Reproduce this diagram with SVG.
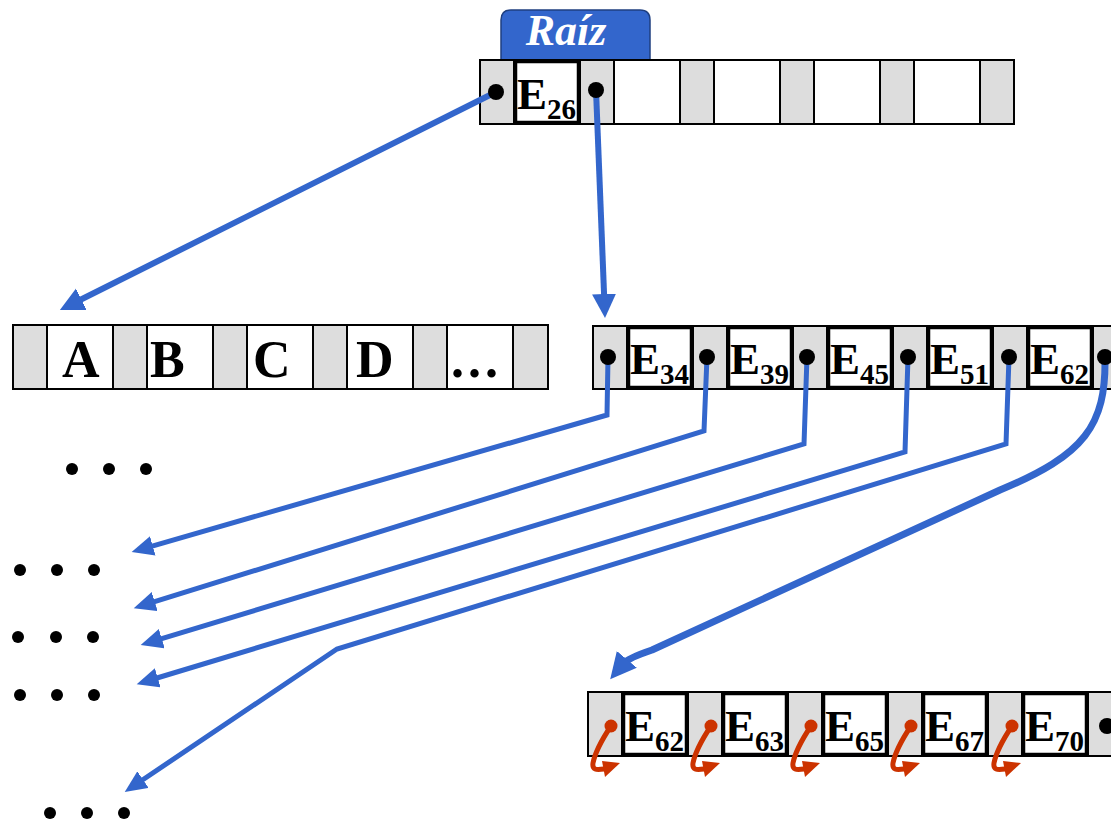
<svg xmlns="http://www.w3.org/2000/svg" width="1111" height="821" viewBox="0 0 1111 821">
  <defs>
    <style>
      .frame { fill: #dddddd; stroke: #000; stroke-width: 2; }
      .cell { fill: #fff; stroke: #000; stroke-width: 2; }
      .key { fill: #fff; stroke: #000; stroke-width: 2.5; }
      .e { font-family: "Liberation Serif", "Times New Roman", serif; font-weight: bold; font-size: 45px; fill: #000; }
      .sub { font-size: 29px; }
      .big { font-family: "Liberation Serif", "Times New Roman", serif; font-weight: bold; font-size: 52px; fill: #000; }
      .ptr { fill: #000; }
      .link { fill: none; stroke: #3366cc; stroke-linejoin: miter; }
      .thick { stroke-width: 6; }
      .thin { stroke-width: 5; }
      .curve { stroke-width: 7; stroke-linecap: round; stroke-linejoin: round; }
      .sib { fill: none; stroke: #cc3300; stroke-width: 5; stroke-linecap: round; }
      .dot { fill: #000; }
    </style>
    <marker id="headL" markerUnits="userSpaceOnUse" markerWidth="26" markerHeight="26" refX="6" refY="12" orient="auto">
      <path d="M0,0 L24,12 L0,24 z" fill="#3366cc"/>
    </marker>
    <marker id="headM" markerUnits="userSpaceOnUse" markerWidth="24" markerHeight="22" refX="6" refY="10" orient="auto">
      <path d="M0,0 L22,10 L0,20 z" fill="#3366cc"/>
    </marker>
    <marker id="headC" markerUnits="userSpaceOnUse" markerWidth="28" markerHeight="28" refX="6" refY="13" orient="auto">
      <path d="M0,0 L26,13 L0,26 z" fill="#3366cc"/>
    </marker>
    <!-- sibling pointer: red dot with a hooked arrow -->
    <g id="sibling">
      <circle cx="0" cy="0" r="6.5" fill="#cc3300"/>
      <path class="sib" d="M0,0 C-8,12 -16,27 -18,37 C-19,44 -15,44 -7,43"/>
      <polygon points="-9,35 9,37 -6,51" fill="#cc3300"/>
    </g>
  </defs>

  <rect width="1111" height="821" fill="#fff"/>

  <!-- root node -->
  <g id="root">
    <path d="M501,60 L501,20 Q501,10 511,10 L640,10 Q650,10 650,20 L650,60 Z" fill="#3366cc" stroke="#1f3f80" stroke-width="1.5"/>
    <text x="566" y="45" text-anchor="middle" font-family="Liberation Serif, Times New Roman, serif" font-style="italic" font-weight="bold" font-size="44" fill="#fff">Raíz</text>
    <rect class="frame" x="480" y="60" width="534" height="64"/>
    <rect class="cell" x="514" y="60" width="66" height="64"/>
    <rect class="cell" x="614" y="60" width="66" height="64"/>
    <rect class="cell" x="714" y="60" width="66" height="64"/>
    <rect class="cell" x="814" y="60" width="66" height="64"/>
    <rect class="cell" x="914" y="60" width="66" height="64"/>
    <rect class="key" x="516" y="62" width="62" height="60"/>
    <text class="e" x="517" y="109"><tspan>E</tspan><tspan class="sub" dy="10">26</tspan></text>
  </g>

  <!-- leaf node with data -->
  <g id="leaf">
    <rect class="frame" x="13" y="325" width="535" height="64"/>
    <rect class="cell" x="47" y="325" width="66" height="64"/>
    <rect class="cell" x="147" y="325" width="66" height="64"/>
    <rect class="cell" x="247" y="325" width="66" height="64"/>
    <rect class="cell" x="347" y="325" width="66" height="64"/>
    <rect class="cell" x="447" y="325" width="66" height="64"/>
    <text class="big" x="62" y="377">A</text>
    <text class="big" x="150" y="377">B</text>
    <text class="big" x="253" y="377">C</text>
    <text class="big" x="356" y="377">D</text>
    <text class="big" x="451" y="377" font-size="58" letter-spacing="4">...</text>
  </g>

  <!-- internal node -->
  <g id="inner">
    <rect class="frame" x="593" y="326" width="540" height="63"/>
    <rect class="cell" x="627" y="326" width="66" height="63"/>
    <rect class="cell" x="727" y="326" width="66" height="63"/>
    <rect class="cell" x="827" y="326" width="66" height="63"/>
    <rect class="cell" x="927" y="326" width="66" height="63"/>
    <rect class="cell" x="1027" y="326" width="66" height="63"/>
    <rect class="key" x="629" y="328" width="62" height="59"/>
    <rect class="key" x="729" y="328" width="62" height="59"/>
    <rect class="key" x="829" y="328" width="62" height="59"/>
    <rect class="key" x="929" y="328" width="62" height="59"/>
    <rect class="key" x="1029" y="328" width="62" height="59"/>
    <text class="e" x="630" y="374"><tspan>E</tspan><tspan class="sub" dy="10">34</tspan></text>
    <text class="e" x="730" y="374"><tspan>E</tspan><tspan class="sub" dy="10">39</tspan></text>
    <text class="e" x="830" y="374"><tspan>E</tspan><tspan class="sub" dy="10">45</tspan></text>
    <text class="e" x="930" y="374"><tspan>E</tspan><tspan class="sub" dy="10">51</tspan></text>
    <text class="e" x="1030" y="374"><tspan>E</tspan><tspan class="sub" dy="10">62</tspan></text>
  </g>

  <!-- leaf node with sibling links -->
  <g id="leaf2">
    <rect class="frame" x="588" y="692" width="540" height="64"/>
    <rect class="cell" x="622" y="692" width="66" height="64"/>
    <rect class="cell" x="722" y="692" width="66" height="64"/>
    <rect class="cell" x="822" y="692" width="66" height="64"/>
    <rect class="cell" x="922" y="692" width="66" height="64"/>
    <rect class="cell" x="1022" y="692" width="66" height="64"/>
    <rect class="key" x="624" y="694" width="62" height="60"/>
    <rect class="key" x="724" y="694" width="62" height="60"/>
    <rect class="key" x="824" y="694" width="62" height="60"/>
    <rect class="key" x="924" y="694" width="62" height="60"/>
    <rect class="key" x="1024" y="694" width="62" height="60"/>
    <text class="e" x="625" y="741"><tspan>E</tspan><tspan class="sub" dy="10">62</tspan></text>
    <text class="e" x="725" y="741"><tspan>E</tspan><tspan class="sub" dy="10">63</tspan></text>
    <text class="e" x="825" y="741"><tspan>E</tspan><tspan class="sub" dy="10">65</tspan></text>
    <text class="e" x="925" y="741"><tspan>E</tspan><tspan class="sub" dy="10">67</tspan></text>
    <text class="e" x="1025" y="741"><tspan>E</tspan><tspan class="sub" dy="10">70</tspan></text>
    <use href="#sibling" x="611" y="726"/>
    <use href="#sibling" x="711" y="726"/>
    <use href="#sibling" x="811" y="726"/>
    <use href="#sibling" x="911" y="726"/>
    <use href="#sibling" x="1012" y="726"/>
    <circle class="ptr" cx="1107" cy="726" r="8"/>
  </g>

  <!-- elided subtrees -->
  <g id="more1"><circle class="dot" cx="72" cy="469" r="6"/><circle class="dot" cx="109" cy="469" r="6"/><circle class="dot" cx="146" cy="469" r="6"/></g>
  <g id="more2"><circle class="dot" cx="20" cy="570" r="6"/><circle class="dot" cx="57" cy="570" r="6"/><circle class="dot" cx="94" cy="570" r="6"/></g>
  <g id="more3"><circle class="dot" cx="18" cy="637" r="6"/><circle class="dot" cx="56" cy="637" r="6"/><circle class="dot" cx="93" cy="637" r="6"/></g>
  <g id="more4"><circle class="dot" cx="20" cy="695" r="6"/><circle class="dot" cx="57" cy="695" r="6"/><circle class="dot" cx="94" cy="695" r="6"/></g>
  <g id="more5"><circle class="dot" cx="50" cy="813" r="6"/><circle class="dot" cx="87" cy="813" r="6"/><circle class="dot" cx="124" cy="813" r="6"/></g>

  <!-- child pointers -->
  <g id="connectors">
    <path class="link thick" d="M496,92 L76,302" marker-end="url(#headL)"/>
    <path class="link thick" d="M596,90 L604.3,300" marker-end="url(#headL)"/>
    <path class="link thin" d="M608,357 L607,415 L147,547.6" marker-end="url(#headM)"/>
    <path class="link thin" d="M707,357 L704,431 L149,603.4" marker-end="url(#headM)"/>
    <path class="link thin" d="M807,357 L804,444 L156,640.4" marker-end="url(#headM)"/>
    <path class="link thin" d="M908,357 L905,452 L152,679.5" marker-end="url(#headM)"/>
    <path class="link thin" d="M1009,357 L1006,444 L337,649 L138,783" marker-end="url(#headM)"/>
    <path class="link curve" d="M1105,358 C1106,425 1085,455 1000,490 L652,650 Q628,658 623,664" marker-end="url(#headC)"/>
    <circle class="ptr" cx="608" cy="357" r="8"/>
    <circle class="ptr" cx="707" cy="357" r="8"/>
    <circle class="ptr" cx="807" cy="357" r="8"/>
    <circle class="ptr" cx="908" cy="357" r="8"/>
    <circle class="ptr" cx="1009" cy="357" r="8"/>
    <circle class="ptr" cx="1105" cy="357" r="8"/>
    <circle class="ptr" cx="496" cy="92" r="8"/>
    <circle class="ptr" cx="596" cy="90" r="8"/>
  </g>
</svg>
